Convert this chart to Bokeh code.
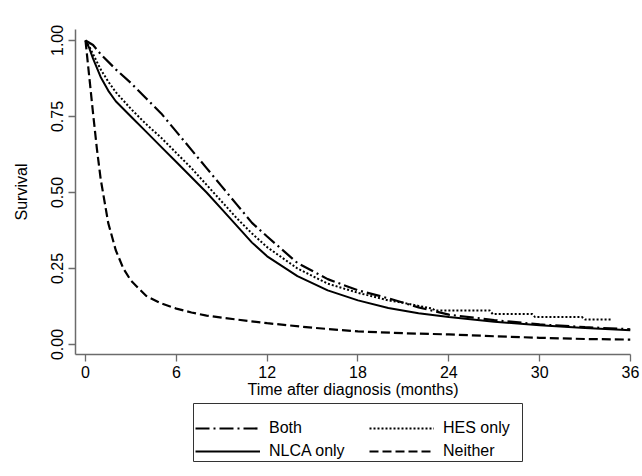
from bokeh.plotting import figure
from bokeh.models import Legend, LegendItem, Range1d, FixedTicker, BoxAnnotation
from bokeh.layouts import column
from bokeh.embed import file_html
from bokeh.resources import INLINE

# Kaplan-Meier survival estimates
t_both = [0, 0.5, 1, 2, 3, 4, 5, 6, 7, 8, 9, 10, 11, 12, 14, 16, 18, 20, 22, 24, 27, 30, 33, 36]
s_both = [1.0, 0.985, 0.955, 0.905, 0.86, 0.81, 0.76, 0.70, 0.64, 0.58, 0.52, 0.46, 0.40, 0.355,
          0.268, 0.215, 0.178, 0.152, 0.122, 0.098, 0.08, 0.066, 0.057, 0.05]

t_hes = [0, 0.25, 0.5, 1, 1.5, 2, 3, 4, 5, 6, 7, 8, 9, 10, 11, 12, 14, 16, 18, 20, 21, 22, 22.9,
         23.1, 26.7, 26.9, 29.5, 29.7, 32.8, 33.0, 34.8]
s_hes = [1.0, 0.98, 0.955, 0.905, 0.865, 0.83, 0.775, 0.725, 0.68, 0.63, 0.58, 0.525, 0.47, 0.415,
         0.365, 0.32, 0.25, 0.20, 0.17, 0.145, 0.137, 0.127, 0.118, 0.112, 0.112, 0.10, 0.10, 0.09,
         0.09, 0.082, 0.082]

t_nlca = [0, 0.25, 0.5, 1, 1.5, 2, 3, 4, 5, 6, 7, 8, 9, 10, 11, 12, 14, 16, 18, 20, 22, 24, 27, 30, 33, 36]
s_nlca = [1.0, 0.975, 0.94, 0.88, 0.835, 0.80, 0.75, 0.70, 0.65, 0.60, 0.55, 0.50, 0.445, 0.39, 0.335,
          0.29, 0.225, 0.178, 0.145, 0.12, 0.103, 0.09, 0.075, 0.063, 0.054, 0.047]

t_neither = [0, 0.25, 0.5, 0.75, 1, 1.5, 2, 2.5, 3, 4, 5, 6, 7, 8, 9, 10, 12, 15, 18, 21, 24, 27, 30, 33, 36]
s_neither = [1.0, 0.88, 0.76, 0.645, 0.545, 0.40, 0.31, 0.25, 0.21, 0.16, 0.135, 0.118, 0.105, 0.095,
             0.088, 0.082, 0.07, 0.055, 0.043, 0.037, 0.033, 0.027, 0.022, 0.018, 0.016]

x_ticks = [0, 6, 12, 18, 24, 30, 36]
y_ticks = [0.0, 0.25, 0.5, 0.75, 1.0]
y_tick_labels = {0.0: "0.00", 0.25: "0.25", 0.5: "0.50", 0.75: "0.75", 1.0: "1.00"}

series_labels = ["Both", "HES only", "NLCA only", "Neither"]

FONT = "Liberation Sans"
AXIS_COLOR = "#6b6b6b"
STYLES = {
    "Both": dict(line_color="black", line_width=2.2, line_dash="14 4 2 4"),
    "HES only": dict(line_color="black", line_width=2.0, line_dash="2 2"),
    "NLCA only": dict(line_color="black", line_width=2.0),
    "Neither": dict(line_color="black", line_width=2.2, line_dash="9 4"),
}

# ---------------- main plot ----------------
p = figure(width=642, height=402, x_range=Range1d(-0.66, 36.0), y_range=Range1d(-0.033, 1.036),
           output_backend="svg", toolbar_location=None,
           min_border_left=75, min_border_right=12, min_border_top=29, min_border_bottom=48)
p.outline_line_color = None
p.xgrid.visible = False
p.ygrid.visible = False
p.background_fill_color = "white"
p.border_fill_color = "white"

for ax in (p.xaxis[0], p.yaxis[0]):
    ax.axis_line_color = AXIS_COLOR
    ax.axis_line_width = 1.5
    ax.major_tick_line_color = AXIS_COLOR
    ax.major_tick_line_width = 1.3
    ax.major_tick_out = 7
    ax.major_tick_in = 0
    ax.minor_tick_line_color = None
    ax.major_label_text_font = FONT
    ax.major_label_text_font_size = "16px"
    ax.major_label_text_color = "black"
    ax.axis_label_text_font = FONT
    ax.axis_label_text_font_size = "16px"
    ax.axis_label_text_font_style = "normal"
    ax.axis_label_text_color = "black"

p.xaxis.ticker = FixedTicker(ticks=x_ticks)
p.xaxis.axis_label = "Time after diagnosis (months)"
p.xaxis.major_label_standoff = 4
p.xaxis.axis_label_standoff = 0

p.yaxis.ticker = FixedTicker(ticks=y_ticks)
p.yaxis.major_label_overrides = y_tick_labels
p.yaxis.major_label_orientation = "vertical"
p.yaxis.axis_label = "Survival"
p.yaxis.major_label_standoff = 5
p.yaxis.axis_label_standoff = 19

p.line(t_both, s_both, **STYLES["Both"])
p.line(t_hes, s_hes, **STYLES["HES only"])
p.line(t_nlca, s_nlca, **STYLES["NLCA only"])
p.line(t_neither, s_neither, **STYLES["Neither"])

# ---------------- legend panel (frame coordinates = page pixels) ----------------
q = figure(width=642, height=70, x_range=Range1d(75, 630), y_range=Range1d(472, 402),
           x_axis_type=None, y_axis_type=None, output_backend="svg", toolbar_location=None,
           min_border_left=75, min_border_right=12, min_border_top=0, min_border_bottom=0)
q.xgrid.visible = False
q.ygrid.visible = False
q.outline_line_color = None
q.border_fill_color = "white"
q.background_fill_color = "white"

# key renderers sit outside the visible range; they only supply legend glyphs
keys = {lab: q.line([0, 1], [0, 1], **STYLES[lab]) for lab in series_labels}

q.add_layout(BoxAnnotation(left=193, right=522, top=403, bottom=461, fill_alpha=0,
                           line_color="#333333", line_width=1, line_alpha=1))


def make_legend(labels, loc):
    lg = Legend(items=[LegendItem(label=lab, renderers=[keys[lab]]) for lab in labels],
                location=loc, orientation="vertical")
    lg.glyph_width = 65
    lg.glyph_height = 20
    lg.label_height = 20
    lg.label_standoff = 9
    lg.spacing = 3
    lg.padding = 3
    lg.margin = 0
    lg.label_text_font = FONT
    lg.label_text_font_size = "16px"
    lg.label_text_color = "black"
    lg.border_line_color = None
    lg.background_fill_alpha = 0
    return lg


q.add_layout(make_legend(["Both", "NLCA only"], (120, 11)))
q.add_layout(make_legend(["HES only", "Neither"], (294, 11)))

layout = column(p, q, spacing=0)
open("out.html", "w").write(file_html(layout, INLINE))
